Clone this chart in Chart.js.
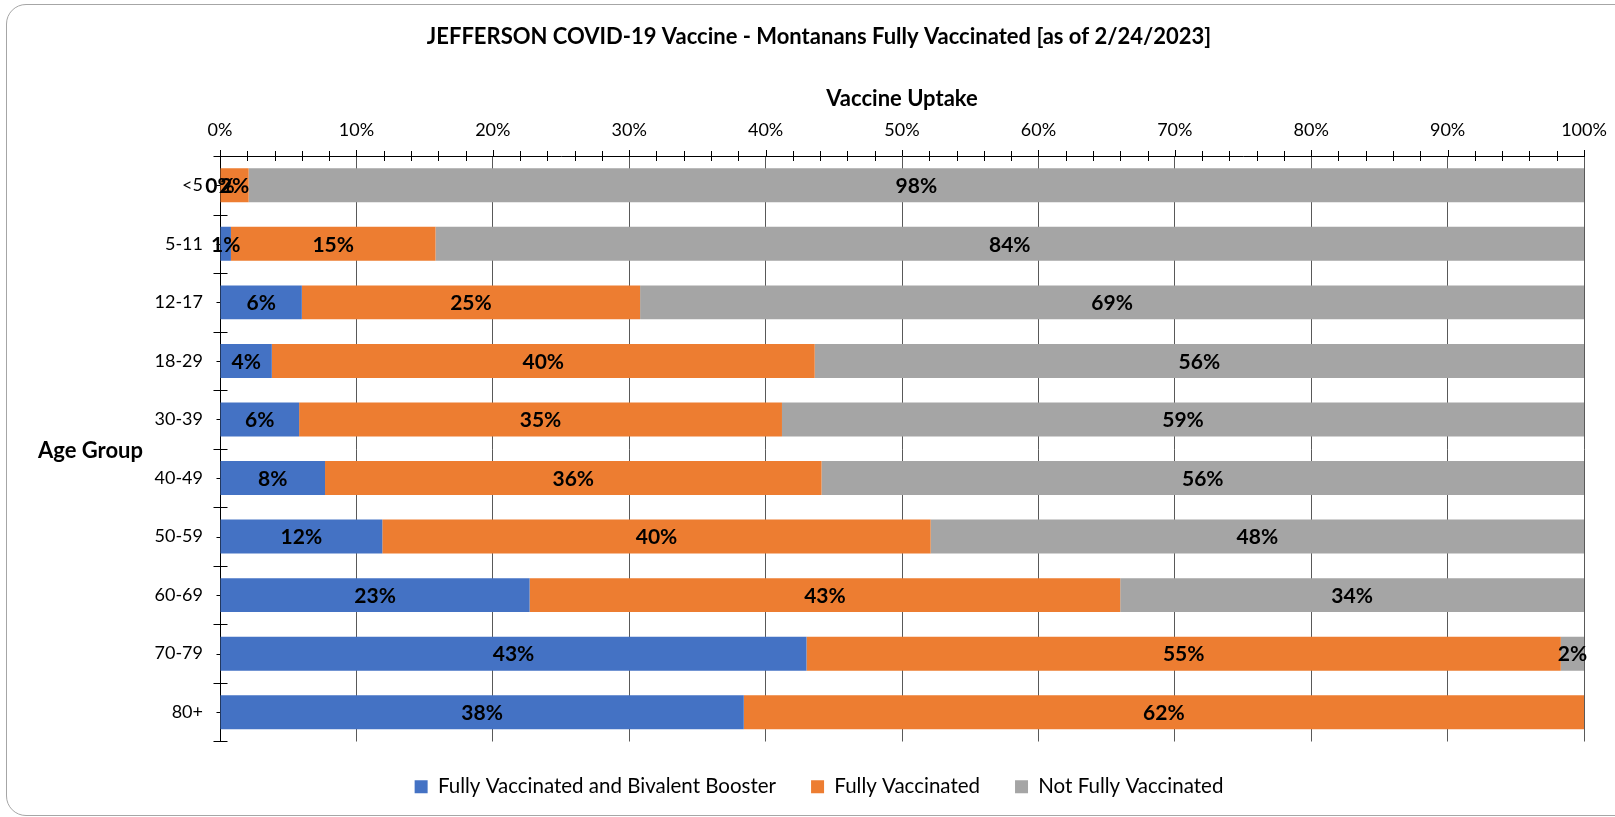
<!DOCTYPE html>
<html><head><meta charset="utf-8">
<script src="https://cdn.jsdelivr.net/npm/chart.js@4.4.1/dist/chart.umd.min.js"></script>
<style>
html,body{margin:0;padding:0;background:#fff;overflow:hidden;}
#wrap{position:relative;width:1615px;height:817px;overflow:hidden;}
#frame{position:absolute;left:6px;top:4px;width:1640px;height:812px;border:1.5px solid #a6a6a6;border-radius:20px;box-sizing:border-box;}
canvas{position:absolute;left:0;top:0;}
</style></head><body>
<div id="wrap"><div id="frame"></div><canvas id="c" width="1615" height="817"></canvas></div>
<script>
const categories = ['<5','5-11','12-17','18-29','30-39','40-49','50-59','60-69','70-79','80+'];
const seriesNames = ['Fully Vaccinated and Bivalent Booster','Fully Vaccinated','Not Fully Vaccinated'];
const boosterValues = [0, 0.8, 6.0, 3.8, 5.8, 7.7, 11.9, 22.7, 43.0, 38.4];
const fullyValues = [2.1, 15.0, 24.8, 39.8, 35.4, 36.4, 40.2, 43.3, 55.3, 61.6];
const notFullyValues = [97.9, 84.2, 69.2, 56.4, 58.8, 55.9, 47.9, 34.0, 1.7, null];
const titleText = 'JEFFERSON COVID-19 Vaccine - Montanans Fully Vaccinated [as of 2/24/2023]';
const xTitleText = 'Vaccine Uptake';
const yTitleText = 'Age Group';

const FONT = 'Lato';

const barLabels = {
  id: 'barLabels',
  afterDatasetsDraw(chart) {
    const ctx = chart.ctx;
    ctx.save();
    ctx.font = 'bold 21px ' + FONT;
    ctx.fillStyle = '#000';
    ctx.textAlign = 'center';
    ctx.textBaseline = 'middle';
    chart.data.datasets.forEach((ds, di) => {
      const meta = chart.getDatasetMeta(di);
      meta.data.forEach((bar, i) => {
        const v = ds.data[i];
        if (v === null || v === undefined) return;
        ctx.fillText(Math.round(v) + '%', (bar.x + bar.base) / 2, bar.y + 1);
      });
    });
    ctx.restore();
  }
};

const axisDecor = {
  id: 'axisDecor',
  beforeDatasetsDraw(chart) {
    const ctx = chart.ctx;
    const xs = chart.scales.x, ys = chart.scales.y;
    const area = chart.chartArea;
    ctx.save();
    ctx.strokeStyle = '#000';
    ctx.lineWidth = 1;
    ctx.beginPath();
    for (let v = xs.min; v <= xs.max; v += 2) {
      const px = Math.round(xs.getPixelForValue(v)) + 0.5;
      const major = v % 10 === 0;
      ctx.moveTo(px, area.top - (major ? 6 : 5));
      ctx.lineTo(px, area.top + (major ? 0 : 5));
    }
    const n = chart.data.labels.length;
    const step = n > 1 ? ys.getPixelForValue(1) - ys.getPixelForValue(0) : 0;
    const ax = Math.round(area.left) + 0.5;
    for (let i = 0; i <= n; i++) {
      const py = Math.round(ys.getPixelForValue(0) - step / 2 + i * step) + 0.5;
      ctx.moveTo(ax - 7, py); ctx.lineTo(ax + 7, py);
    }
    for (let i = 0; i < n; i++) {
      const py = Math.round(ys.getPixelForValue(i)) + 0.5;
      ctx.moveTo(ax - 4, py); ctx.lineTo(ax + 4, py);
    }
    ctx.stroke();
    ctx.restore();
  },
  afterDraw(chart) {
    const ctx = chart.ctx;
    const area = chart.chartArea;
    ctx.save();
    ctx.font = 'bold 22px ' + FONT;
    ctx.fillStyle = '#000';
    ctx.textAlign = 'left';
    ctx.textBaseline = 'middle';
    ctx.fillText(yTitleText, 38, (area.top + area.bottom) / 2 + 2);
    ctx.restore();
  }
};

new Chart(document.getElementById('c'), {
  type: 'bar',
  data: {
    labels: categories,
    datasets: [
      { label: seriesNames[0], data: boosterValues, backgroundColor: '#4472C4', borderWidth: 0 },
      { label: seriesNames[1], data: fullyValues, backgroundColor: '#ED7D31', borderWidth: 0 },
      { label: seriesNames[2], data: notFullyValues, backgroundColor: '#A5A5A5', borderWidth: 0 }
    ]
  },
  options: {
    indexAxis: 'y',
    responsive: false,
    animation: false,
    devicePixelRatio: 1,
    layout: { padding: { left: 54, right: 31, top: 0, bottom: 10 } },
    datasets: { bar: { categoryPercentage: 1, barPercentage: 0.58 } },
    plugins: {
      title: { display: true, text: titleText, font: { family: FONT, size: 22, weight: 'bold' }, color: '#000', padding: { top: 23.8, bottom: 0 } },
      legend: { position: 'bottom', labels: { boxWidth: 13, boxHeight: 13, padding: 35, font: { family: FONT, size: 20.5 }, color: '#000' } },
      tooltip: { enabled: false }
    },
    scales: {
      x: {
        position: 'top', stacked: true, min: 0, max: 100,
        ticks: { stepSize: 10, callback: v => v + '%', font: { family: FONT, size: 18 }, color: '#000', padding: 15, maxRotation: 0, autoSkip: false },
        grid: { color: '#595959', drawTicks: false, lineWidth: 1 },
        border: { display: true, color: '#000', width: 1 },
        title: { display: true, text: xTitleText, font: { family: FONT, size: 22, weight: 'bold' }, color: '#000', padding: { top: 35.6, bottom: 0 } },
        afterFit(s) { s.height = 105.8; s.paddingRight = 0; s.paddingLeft = 0; }
      },
      y: {
        stacked: true,
        grid: { color: 'rgba(0,0,0,0)', drawTicks: false },
        border: { display: true, color: '#000', width: 1 },
        ticks: { font: { family: FONT, size: 18 }, color: '#000', padding: 17 },
        afterFit(s) { s.width = 166; }
      }
    }
  },
  plugins: [barLabels, axisDecor]
});
</script>
</body></html>
